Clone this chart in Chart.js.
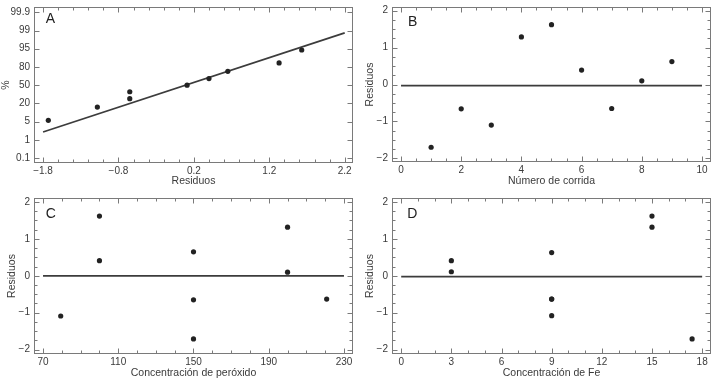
<!DOCTYPE html>
<html><head><meta charset="utf-8">
<script src="https://cdn.jsdelivr.net/npm/chart.js@4.4.1/dist/chart.umd.min.js"></script>
<style>
html,body{margin:0;padding:0;background:#fff;}
#wrap{position:relative;width:718px;height:384px;overflow:hidden;background:#fff;}
canvas{position:absolute;}
</style></head><body>
<div id="wrap">
<canvas id="cA" width="359" height="192" style="left:0;top:0;width:359px;height:192px"></canvas>
<canvas id="cB" width="359" height="192" style="left:358px;top:0;width:359px;height:192px"></canvas>
<canvas id="cC" width="359" height="192" style="left:0;top:192px;width:359px;height:192px"></canvas>
<canvas id="cD" width="359" height="192" style="left:358px;top:192px;width:359px;height:192px"></canvas>
</div>
<script>
// ---------- data ----------
// A: normal probability plot of residuals
const aResiduals   = [-1.73, -1.08, -0.65, -0.65, 0.11, 0.40, 0.65, 1.33, 1.63];
const aPercentPos  = [2.07, 2.80, 3.26, 3.64, 4.00, 4.36, 4.76, 5.22, 5.93]; // position on the probability axis (tick index)
const aFitX        = [-1.8, 2.2];
const aFitY        = [1.43, 6.87];
const aXTicks      = [-1.8, -0.8, 0.2, 1.2, 2.2];
const aYTickLabels = ['0.1', '1', '5', '20', '50', '80', '95', '99', '99.9'];

// B: residuals vs run number
const runNumber    = [1, 2, 3, 4, 5, 6, 7, 8, 9];
const runResiduals = [-1.70, -0.66, -1.10, 1.29, 1.62, 0.39, -0.65, 0.10, 0.62];
const bXTicks      = [0, 2, 4, 6, 8, 10];
const bRefX        = [0, 10];
const bRefY        = [-0.03, -0.03];

// C: residuals vs peroxide concentration
const peroxide          = [79.4, 100, 100, 150, 150, 150, 200, 200, 220.8];
const peroxideResiduals = [-1.09, 1.62, 0.41, 0.65, -0.65, -1.71, 1.32, 0.10, -0.63];
const cXTicks           = [70, 110, 150, 190, 230];
const cRefX             = [70, 230];
const cRefY             = [0, 0];

// D: residuals vs Fe concentration
const ironConc      = [3, 3, 9, 9, 9, 9, 15, 15, 17.4];
const ironResiduals = [0.41, 0.11, 0.63, -0.63, -0.63, -1.08, 1.62, 1.32, -1.71];
const dXTicks       = [0, 3, 6, 9, 12, 15, 18];
const dRefX         = [0, 18];
const dRefY         = [-0.02, -0.02];

const residTicks = [-2, -1, 0, 1, 2];

// ---------- helpers ----------
const FONT = "'Liberation Sans', Arial, Helvetica, sans-serif";
const TEXT = '#3a3a3a';
const pts = (xs, ys) => xs.map((x, i) => ({x: x, y: ys[i]}));
const fmt = v => (v < 0 ? '\u2212' + Math.abs(v) : String(v));

function minorList(majors, step, min, max) {
  if (!step) return [];
  const out = [];
  const start = majors[0];
  for (let k = -200; k <= 400; k++) {
    const v = +(start + k * step).toFixed(6);
    if (v < min - 1e-9 || v > max + 1e-9) continue;
    if (majors.some(m => Math.abs(m - v) < 1e-6)) continue;
    out.push(v);
  }
  return out;
}

const framePlugin = {
  id: 'frame',
  afterDatasetsDraw(chart) {
    const o = chart.options.plugins.frame;
    const {ctx, chartArea: a, scales} = chart;
    const sx = scales.x, sy = scales.y;
    const L = Math.round(a.left) + 0.5, R = Math.round(a.right) - 0.5;
    const T = Math.round(a.top) + 0.5, B = Math.round(a.bottom) - 0.5;
    ctx.save();
    ctx.strokeStyle = '#7a7a7a';
    ctx.lineWidth = 1;
    ctx.strokeRect(L, T, R - L, B - T);
    ctx.beginPath();
    const xt = (vals, len) => vals.forEach(v => {
      const px = Math.round(sx.getPixelForValue(v)) + 0.5;
      ctx.moveTo(px, B); ctx.lineTo(px, B - len);
      ctx.moveTo(px, T); ctx.lineTo(px, T + len);
    });
    const yt = (vals, len) => vals.forEach(v => {
      const py = Math.round(sy.getPixelForValue(v)) + 0.5;
      ctx.moveTo(L, py); ctx.lineTo(L + len, py);
      ctx.moveTo(R, py); ctx.lineTo(R - len, py);
    });
    xt(o.xMajor, 5);
    xt(minorList(o.xMajor, o.xMinor, sx.min, sx.max), 3);
    yt(o.yMajor, 5);
    yt(minorList(o.yMajor, o.yMinor, sy.min, sy.max), 3);
    ctx.stroke();
    ctx.fillStyle = '#222';
    ctx.font = '14px ' + FONT;
    ctx.textBaseline = 'alphabetic';
    ctx.textAlign = 'left';
    ctx.fillText(o.letter, a.left + o.lx, a.top + o.ly);
    ctx.restore();
  }
};

function makePanel(id, p) {
  const W = 359, H = 192;
  const datasets = [
    {data: p.points, showLine: false, pointRadius: 2.6, pointHoverRadius: 2.6,
     pointBackgroundColor: '#222', pointBorderWidth: 0, order: 1},
    {data: p.line, showLine: true, pointRadius: 0, borderColor: '#3c3c3c',
     borderWidth: 1.7, fill: false, order: 2}
  ];
  new Chart(document.getElementById(id), {
    type: 'scatter',
    data: {datasets: datasets},
    options: {
      responsive: false, animation: false, events: [],
      layout: {padding: {left: 0, top: p.top, right: W - p.right, bottom: 0}},
      plugins: {
        legend: {display: false}, tooltip: {enabled: false},
        frame: {xMajor: p.xTicks, xMinor: p.xMinor, yMajor: p.yTicks, yMinor: p.yMinor,
                letter: p.letter, lx: p.lx, ly: p.ly}
      },
      scales: {
        x: {
          type: 'linear', position: 'bottom', min: p.xMin, max: p.xMax,
          grid: {display: false, drawTicks: false}, border: {display: false},
          afterBuildTicks: s => { s.ticks = p.xTicks.map(v => ({value: v})); },
          afterFit: s => { s.height = H - p.bottom; s.paddingLeft = 0; s.paddingRight = 0; },
          ticks: {color: TEXT, font: {family: FONT, size: 10}, padding: 2,
                  autoSkip: false, maxRotation: 0, callback: v => fmt(v)},
          title: {display: true, text: p.xTitle, color: TEXT,
                  font: {family: FONT, size: 10.5}, padding: {top: 0, bottom: 5}}
        },
        y: {
          type: 'linear', position: 'left', min: p.yMin, max: p.yMax,
          grid: {display: false, drawTicks: false}, border: {display: false},
          afterBuildTicks: s => { s.ticks = p.yTicks.map(v => ({value: v})); },
          afterFit: s => { s.width = 34; s.paddingTop = 0; s.paddingBottom = 0; },
          ticks: {color: TEXT, font: {family: FONT, size: 10}, padding: 4,
                  autoSkip: false, callback: p.yLabel},
          title: {display: true, text: p.yTitle, color: TEXT,
                  font: {family: FONT, size: 10.5}, padding: {top: p.yTitlePad, bottom: 0}}
        }
      }
    },
    plugins: [framePlugin]
  });
}

makePanel('cA', {
  points: pts(aResiduals, aPercentPos), line: pts(aFitX, aFitY),
  xMin: -1.92, xMax: 2.31, yMin: -0.27, yMax: 8.29,
  xTicks: aXTicks, xMinor: 0.2, yTicks: aYTickLabels.map((_, i) => i), yMinor: 0,
  yLabel: v => aYTickLabels[v], xTitle: 'Residuos', yTitle: '%', yTitlePad: 0,
  top: 7, bottom: 163, right: 353, letter: 'A', lx: 11.7, ly: 15.7
});
makePanel('cB', {
  points: pts(runNumber, runResiduals), line: pts(bRefX, bRefY),
  xMin: -0.3, xMax: 10.3, yMin: -2.1, yMax: 2.1,
  xTicks: bXTicks, xMinor: 0.5, yTicks: residTicks, yMinor: 0.25,
  yLabel: v => fmt(v), xTitle: 'Número de corrida', yTitle: 'Residuos', yTitlePad: 5.5,
  top: 7, bottom: 162, right: 353, letter: 'B', lx: 16, ly: 19.4
});
makePanel('cC', {
  points: pts(peroxide, peroxideResiduals), line: pts(cRefX, cRefY),
  xMin: 65.2, xMax: 234.8, yMin: -2.12, yMax: 2.11,
  xTicks: cXTicks, xMinor: 10, yTicks: residTicks, yMinor: 0.25,
  yLabel: v => fmt(v), xTitle: 'Concentración de peróxido', yTitle: 'Residuos', yTitlePad: 5.5,
  top: 6, bottom: 162, right: 353, letter: 'C', lx: 11.7, ly: 19.7
});
makePanel('cD', {
  points: pts(ironConc, ironResiduals), line: pts(dRefX, dRefY),
  xMin: -0.55, xMax: 18.53, yMin: -2.12, yMax: 2.11,
  xTicks: dXTicks, xMinor: 1, yTicks: residTicks, yMinor: 0.25,
  yLabel: v => fmt(v), xTitle: 'Concentración de Fe', yTitle: 'Residuos', yTitlePad: 5.5,
  top: 6, bottom: 162, right: 353, letter: 'D', lx: 15.3, ly: 19.7
});
</script>
</body></html>
